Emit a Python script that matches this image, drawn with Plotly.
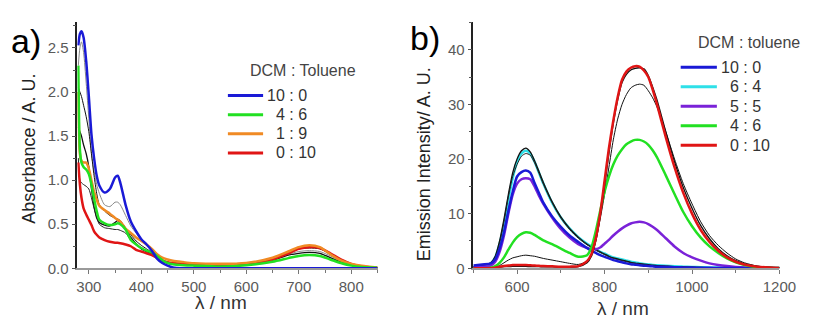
import plotly.graph_objects as go

W, H = 817, 327

# ---------------- Panel a) absorbance data ----------------
WL_ABS = [280, 283, 286, 290, 295, 300, 305, 310, 315, 320, 330, 340, 350, 355, 360,
          370, 380, 390, 400, 410, 420, 430, 440, 450, 460, 480, 500, 550, 600, 650,
          680, 700, 720, 740, 760, 780, 800, 820, 850]

ABS_10_0 = [2.53, 2.66, 2.69, 2.62, 2.35, 1.95, 1.52, 1.25, 1.05, 0.94, 0.86, 0.9, 1.03, 1.05, 0.97,
            0.72, 0.53, 0.42, 0.33, 0.27, 0.2, 0.11, 0.06, 0.03, 0.01, 0.0, 0.0, 0.0, 0.0, 0.0,
            0.0, 0.0, 0.0, 0.0, 0.0, 0.0, 0.0, 0.0, 0.0]
ABS_4_6 = [2.3, 1.35, 1.2, 1.15, 1.12, 1.07, 0.95, 0.79, 0.65, 0.55, 0.51, 0.49, 0.5, 0.51, 0.5,
           0.44, 0.32, 0.27, 0.23, 0.2, 0.18, 0.14, 0.09, 0.06, 0.045, 0.035, 0.03, 0.02, 0.035, 0.075,
           0.115, 0.14, 0.15, 0.14, 0.1, 0.06, 0.03, 0.015, 0.005]
ABS_1_9 = [2.0, 1.3, 1.22, 1.2, 1.2, 1.13, 1.0, 0.87, 0.78, 0.71, 0.66, 0.62, 0.57, 0.55, 0.53,
           0.45, 0.4, 0.35, 0.31, 0.27, 0.22, 0.16, 0.12, 0.1, 0.085, 0.07, 0.058, 0.05, 0.06, 0.12,
           0.19, 0.24, 0.26, 0.24, 0.16, 0.09, 0.05, 0.03, 0.01]
ABS_0_10 = [1.2, 0.95, 0.8, 0.68, 0.61, 0.55, 0.49, 0.42, 0.38, 0.35, 0.32, 0.3, 0.29, 0.29, 0.285,
            0.27, 0.25, 0.21, 0.19, 0.17, 0.15, 0.12, 0.09, 0.07, 0.06, 0.05, 0.045, 0.04, 0.05, 0.1,
            0.17, 0.22, 0.24, 0.23, 0.17, 0.1, 0.05, 0.02, 0.005]
# other solvent ratios (thin unlabeled curves)
ABS_K0 = [2.3, 2.5, 2.57, 2.45, 2.1, 1.7, 1.3, 1.1, 0.95, 0.85, 0.72, 0.7, 0.75, 0.75, 0.72,
          0.6, 0.48, 0.4, 0.33, 0.27, 0.2, 0.13, 0.08, 0.06, 0.05, 0.045, 0.04, 0.035, 0.05, 0.1,
          0.16, 0.19, 0.2, 0.19, 0.14, 0.08, 0.04, 0.02, 0.005]
ABS_K1 = [2.05, 2.0, 1.95, 1.85, 1.72, 1.55, 1.3, 1.05, 0.85, 0.72, 0.65, 0.6, 0.57, 0.56, 0.54,
          0.46, 0.38, 0.31, 0.26, 0.22, 0.18, 0.13, 0.09, 0.07, 0.06, 0.05, 0.045, 0.04, 0.05, 0.11,
          0.18, 0.22, 0.23, 0.22, 0.16, 0.09, 0.05, 0.02, 0.005]
ABS_K2 = [1.6, 1.55, 1.5, 1.4, 1.3, 1.15, 0.9, 0.7, 0.57, 0.52, 0.49, 0.48, 0.52, 0.54, 0.52,
          0.45, 0.35, 0.28, 0.22, 0.19, 0.16, 0.12, 0.08, 0.06, 0.05, 0.04, 0.035, 0.03, 0.045, 0.09,
          0.15, 0.17, 0.18, 0.17, 0.12, 0.07, 0.035, 0.015, 0.005]
ABS_K3 = [1.25, 1.0, 0.97, 0.95, 0.93, 0.9, 0.8, 0.68, 0.58, 0.5, 0.46, 0.45, 0.44, 0.44, 0.43,
          0.4, 0.32, 0.27, 0.22, 0.19, 0.16, 0.12, 0.08, 0.06, 0.05, 0.045, 0.04, 0.035, 0.05, 0.11,
          0.19, 0.23, 0.24, 0.23, 0.17, 0.1, 0.05, 0.02, 0.005]

# ---------------- Panel b) emission data ----------------
WL_EM = [500, 520, 540, 550, 560, 570, 580, 590, 600, 610, 620, 630, 640, 650, 660, 680, 700,
         720, 740, 760, 770, 780, 790, 800, 810, 820, 830, 840, 850, 860, 870, 880, 890, 900,
         910, 920, 940, 960, 980, 1000, 1020, 1040, 1060, 1080, 1100, 1120, 1150, 1200]

EM_10_0 = [0.5, 0.7, 0.9, 1.6, 3.6, 6.6, 10.5, 14.0, 16.8, 17.6, 17.9, 17.5, 15.6, 13.8, 12.0, 9.5, 7.6,
           6.0, 4.8, 3.7, 3.2, 2.8, 2.4, 2.1, 1.8, 1.5, 1.3, 1.1, 0.9, 0.75, 0.65, 0.55, 0.48, 0.42,
           0.36, 0.3, 0.25, 0.2, 0.15, 0.12, 0.1, 0.08, 0.06, 0.05, 0.04, 0.03, 0.02, 0.02]
EM_6_4 = [0.3, 0.4, 0.9, 2.0, 4.5, 8.0, 12.5, 16.5, 19.5, 21.0, 21.5, 21.0, 19.5, 17.5, 15.5, 12.0, 9.3,
          7.3, 5.7, 4.5, 4.0, 3.5, 3.0, 2.7, 2.3, 2.0, 1.8, 1.6, 1.4, 1.2, 1.05, 0.9, 0.8, 0.7,
          0.6, 0.55, 0.45, 0.35, 0.3, 0.25, 0.2, 0.15, 0.12, 0.1, 0.08, 0.06, 0.05, 0.03]
EM_5_5 = [0.2, 0.3, 0.5, 1.2, 3.0, 6.0, 10.0, 13.5, 15.5, 16.3, 16.5, 16.3, 15.0, 13.3, 11.8, 9.3, 7.2,
          5.6, 4.4, 3.7, 3.5, 3.5, 3.8, 4.5, 5.2, 6.0, 6.7, 7.3, 7.8, 8.2, 8.4, 8.5, 8.4, 8.1,
          7.6, 7.0, 5.5, 4.0, 2.8, 2.0, 1.4, 0.9, 0.6, 0.4, 0.25, 0.15, 0.1, 0.05]
EM_4_6 = [0.0, 0.0, 0.1, 0.4, 1.0, 2.0, 3.4, 4.7, 5.7, 6.3, 6.6, 6.5, 6.1, 5.6, 5.1, 4.4, 3.6,
          2.8, 2.1, 2.4, 3.8, 6.8, 10.5, 14.0, 16.8, 19.0, 20.6, 21.8, 22.7, 23.2, 23.5, 23.5, 23.2, 22.6,
          21.6, 20.3, 17.0, 13.6, 10.3, 7.7, 5.6, 4.0, 2.8, 1.8, 1.1, 0.6, 0.2, 0.05]
EM_0_10 = [0.0, 0.0, 0.0, 0.1, 0.3, 0.4, 0.5, 0.6, 0.6, 0.6, 0.6, 0.55, 0.5, 0.45, 0.4, 0.35, 0.3,
           0.3, 0.4, 1.3, 2.6, 5.5, 10.0, 16.0, 22.0, 27.0, 31.3, 34.5, 36.0, 36.7, 37.0, 36.9, 36.2, 35.0,
           32.7, 30.0, 24.0, 18.5, 13.8, 10.0, 7.0, 4.8, 3.2, 2.0, 1.2, 0.7, 0.3, 0.05]
# other solvent ratios (thin unlabeled curves)
EM_KA = [0.3, 0.5, 1.0, 2.2, 5.0, 9.0, 13.5, 17.5, 20.0, 21.5, 22.0, 21.3, 19.7, 17.7, 15.7, 12.2, 9.4,
         7.3, 5.7, 4.4, 3.9, 3.4, 3.0, 2.6, 2.2, 1.9, 1.7, 1.5, 1.3, 1.1, 0.95, 0.85, 0.75, 0.65,
         0.55, 0.5, 0.4, 0.3, 0.25, 0.2, 0.15, 0.12, 0.1, 0.08, 0.06, 0.05, 0.04, 0.02]
EM_KB = [0.3, 0.5, 0.9, 2.0, 4.6, 8.5, 13.0, 16.8, 19.0, 20.5, 21.0, 20.7, 19.3, 17.4, 15.4, 12.0, 9.2,
         7.1, 5.5, 4.3, 3.8, 3.3, 2.9, 2.5, 2.1, 1.8, 1.6, 1.4, 1.2, 1.0, 0.9, 0.8, 0.7, 0.6,
         0.5, 0.45, 0.38, 0.3, 0.24, 0.2, 0.15, 0.12, 0.1, 0.08, 0.06, 0.05, 0.04, 0.02]
EM_KM = [0.0, 0.0, 0.0, 0.2, 0.5, 1.0, 1.5, 1.9, 2.1, 2.3, 2.4, 2.3, 2.2, 2.0, 1.8, 1.5, 1.2,
         0.9, 0.7, 1.3, 2.4, 5.0, 9.0, 13.5, 18.5, 23.5, 27.3, 30.0, 31.8, 33.0, 33.5, 33.7, 33.5, 32.5,
         31.2, 29.5, 25.0, 20.0, 15.5, 11.8, 8.5, 6.0, 4.2, 2.8, 1.7, 1.0, 0.4, 0.1]
EM_KR = [0.0, 0.0, 0.0, 0.1, 0.2, 0.3, 0.3, 0.35, 0.35, 0.35, 0.35, 0.3, 0.3, 0.3, 0.25, 0.25, 0.2,
         0.2, 0.3, 1.0, 2.2, 5.0, 9.5, 15.0, 21.0, 26.5, 30.8, 34.0, 35.5, 36.3, 36.6, 36.7, 36.5, 35.3,
         33.2, 30.8, 25.0, 19.5, 14.8, 11.0, 7.8, 5.4, 3.6, 2.3, 1.4, 0.8, 0.35, 0.05]

LEGEND_A_TITLE = "DCM : Toluene"
LEGEND_A_LABELS = ["10 : 0", "&nbsp;&nbsp;4 : 6", "&nbsp;&nbsp;1 : 9", "&nbsp;&nbsp;0 : 10"]
LEGEND_B_TITLE = "DCM : toluene"
LEGEND_B_LABELS = ["10 : 0", "&nbsp;&nbsp;6 : 4", "&nbsp;&nbsp;5 : 5", "&nbsp;&nbsp;4 : 6", "&nbsp;&nbsp;0 : 10"]

BLUE, GREEN, ORANGE, RED = "#1a1ad6", "#22e022", "#f08a24", "#e01515"
CYAN, PURPLE = "#2ee0e8", "#7a22d8"
FONT = "Liberation Sans, Arial, sans-serif"

fig = go.Figure()

def add(x, y, color, width, xa, ya):
    fig.add_trace(go.Scatter(x=x, y=y, mode="lines", xaxis=xa, yaxis=ya, showlegend=False,
                             line=dict(color=color, width=width, shape="spline", smoothing=0.7),
                             hoverinfo="skip"))

# panel a
add(WL_ABS, ABS_K0, "#888888", 1, "x", "y")
add(WL_ABS, ABS_K1, "#111111", 1, "x", "y")
add(WL_ABS, ABS_K2, "#111111", 1.3, "x", "y")
add(WL_ABS, ABS_K3, "#222222", 1, "x", "y")
add(WL_ABS, ABS_0_10, RED, 2.5, "x", "y")
add(WL_ABS, ABS_1_9, ORANGE, 2.5, "x", "y")
add(WL_ABS, ABS_4_6, GREEN, 2.5, "x", "y")
add(WL_ABS, ABS_10_0, BLUE, 2.5, "x", "y")

# panel b
add(WL_EM, EM_6_4, CYAN, 2.5, "x2", "y2")
add(WL_EM, EM_KA, "#111111", 1.3, "x2", "y2")
add(WL_EM, EM_KB, "#222222", 1, "x2", "y2")
add(WL_EM, EM_5_5, PURPLE, 2.5, "x2", "y2")
add(WL_EM, EM_10_0, BLUE, 2.5, "x2", "y2")
add(WL_EM, EM_KM, "#111111", 1, "x2", "y2")
add(WL_EM, EM_4_6, GREEN, 2.5, "x2", "y2")
add(WL_EM, EM_KR, "#111111", 1.3, "x2", "y2")
add(WL_EM, EM_0_10, RED, 2.5, "x2", "y2")

ydom = [1 - 275 / H, 1 - 23 / H]
tickfont = dict(family=FONT, size=15, color="#5a5a5a")
common_x = dict(showgrid=False, zeroline=False, showline=True, linecolor="#9a9a9a", linewidth=1.5,
                ticks="outside", ticklen=4, tickcolor="#777777", tickfont=tickfont)
common_y = dict(showgrid=False, zeroline=False, showline=True, linecolor="#222222", linewidth=1.5,
                ticks="outside", ticklen=4, tickcolor="#555555", tickfont=tickfont)

fig.update_layout(
    width=W, height=H, margin=dict(l=0, r=0, t=0, b=0),
    paper_bgcolor="white", plot_bgcolor="white",
    font=dict(family=FONT),
    xaxis=dict(domain=[78 / W, 385 / W], range=[278, 850], anchor="y", tickvals=[300, 400, 500, 600, 700, 800],
               minor=dict(dtick=50, tick0=250, ticks="outside", ticklen=3, tickcolor="#777777"), **common_x),
    yaxis=dict(domain=ydom, range=[0, 2.79], anchor="x", tickvals=[0, 0.5, 1.0, 1.5, 2.0, 2.5], tickformat=".1f",
               minor=dict(dtick=0.25, tick0=0, ticks="outside", ticklen=3, tickcolor="#555555"), **common_y),
    xaxis2=dict(domain=[483 / W, 796 / W], range=[500, 1200], anchor="y2", tickvals=[600, 800, 1000, 1200],
                minor=dict(dtick=100, tick0=500, ticks="outside", ticklen=3, tickcolor="#777777"), **common_x),
    yaxis2=dict(domain=ydom, range=[0, 45], anchor="x2", tickvals=[0, 10, 20, 30, 40],
                minor=dict(dtick=5, tick0=0, ticks="outside", ticklen=3, tickcolor="#555555"), **common_y),
)

def ann(text, x, y, size, color="#222222", xanchor="center", yanchor="middle", angle=0):
    fig.add_annotation(text=text, x=x / W, y=1 - y / H, xref="paper", yref="paper", showarrow=False,
                       xanchor=xanchor, yanchor=yanchor, textangle=angle,
                       font=dict(family=FONT, size=size, color=color))

# panel labels
ann("a)", 26, 42, 34, "#000000")
ann("b)", 434, 39, 34, "#000000")
# axis titles
ann("Absorbance / A. U.", 29, 152, 18, "#222222", angle=-90)
ann("λ / nm", 225, 310, 19, "#333333")
ann("Emission Intensity/ A. U.", 432, 168, 18, "#222222", angle=-90)
ann("λ / nm", 636, 316, 19, "#333333")

# manual legends
def legend(title, tx, ty, labels, colors, x0, x1, y0, dy):
    ann(title, tx, ty, 16, "#444444", xanchor="left")
    for i, (lab, col) in enumerate(zip(labels, colors)):
        yy = y0 + i * dy
        fig.add_shape(type="line", xref="paper", yref="paper", x0=x0 / W, x1=x1 / W,
                      y0=1 - yy / H, y1=1 - yy / H, line=dict(color=col, width=3))
        ann(lab, x1 + 2, yy, 16, "#333333", xanchor="left")

legend(LEGEND_A_TITLE, 253, 72, LEGEND_A_LABELS, [BLUE, GREEN, ORANGE, RED], 232, 268, 98, 19.6)
legend(LEGEND_B_TITLE, 711, 44, LEGEND_B_LABELS, [BLUE, CYAN, PURPLE, GREEN, RED], 695, 732, 69, 20)

fig.write_html("out.html")
